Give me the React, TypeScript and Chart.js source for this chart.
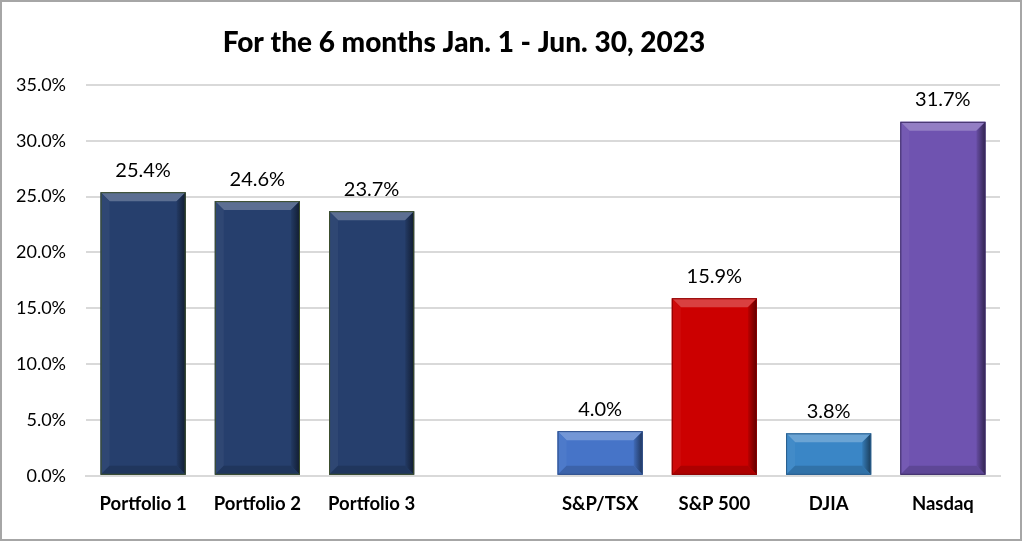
import { useEffect, useRef } from 'react'
import { Chart, registerables } from 'chart.js'

Chart.register(...registerables)

const TITLE = 'For the 6 months Jan. 1 - Jun. 30, 2023'
const categories = ['Portfolio 1', 'Portfolio 2', 'Portfolio 3', '', 'S&P/TSX', 'S&P 500', 'DJIA', 'Nasdaq']
const returns: (number | null)[] = [25.4, 24.6, 23.7, null, 4.0, 15.9, 3.8, 31.7]
const barColors = ['#263f6d', '#263f6d', '#263f6d', '#000000', '#4674c8', '#cc0000', '#3a86c6', '#6f53b0']
const barBorders = ['#3d4f2a', '#3d4f2a', '#3d4f2a', '#000000', '#2f4f8a', '#8a0000', '#285d8c', '#3e2d66']
const yTicks = [0, 5, 10, 15, 20, 25, 30, 35]

const FONT = 'Lato, "Open Sans", sans-serif'

function shade(hex: string, amt: number) {
  const n = parseInt(hex.slice(1), 16)
  let r = (n >> 16) & 255, g = (n >> 8) & 255, b = n & 255
  if (amt > 0) {
    r += (255 - r) * amt; g += (255 - g) * amt; b += (255 - b) * amt
  } else {
    r *= 1 + amt; g *= 1 + amt; b *= 1 + amt
  }
  return `rgb(${Math.round(r)},${Math.round(g)},${Math.round(b)})`
}

// frame + title
const framePlugin = {
  id: 'frame',
  beforeDraw(chart: any) {
    const { ctx, width, height } = chart
    ctx.save()
    ctx.fillStyle = '#ffffff'
    ctx.fillRect(0, 0, width, height)
    ctx.strokeStyle = '#a6a6a6'
    ctx.lineWidth = 2
    ctx.strokeRect(1, 1, width - 4, height - 2)
    ctx.fillStyle = '#000000'
    ctx.font = `900 28px ${FONT}`
    ctx.textAlign = 'center'
    ctx.textBaseline = 'middle'
    ctx.fillText(TITLE, width * 0.453, 43)
    ctx.restore()
  },
}

// bevelled bars and value labels
const bevelPlugin = {
  id: 'bevel',
  afterDatasetsDraw(chart: any) {
    const { ctx } = chart
    const meta = chart.getDatasetMeta(0)
    meta.data.forEach((bar: any, i: number) => {
      const v = returns[i]
      if (v == null) return
      const { x, y, base, width } = bar.getProps(['x', 'y', 'base', 'width'], true)
      const l = x - width / 2, r = x + width / 2, t = y, b = base
      const bv = 9
      const c = barColors[i]
      ctx.save()
      const poly = (pts: number[][], fill: any) => {
        ctx.beginPath()
        ctx.moveTo(pts[0][0], pts[0][1])
        pts.slice(1).forEach(p => ctx.lineTo(p[0], p[1]))
        ctx.closePath()
        ctx.fillStyle = fill
        ctx.fill()
      }
      poly([[l, t], [r, t], [r - bv, t + bv], [l + bv, t + bv]], shade(c, 0.25))
      poly([[l, t], [l + bv, t + bv], [l + bv, b - bv], [l, b]], shade(c, 0.04))
      const rg = ctx.createLinearGradient(r - bv, 0, r, 0)
      rg.addColorStop(0, shade(c, -0.08))
      rg.addColorStop(1, shade(c, -0.55))
      poly([[r, t], [r, b], [r - bv, b - bv], [r - bv, t + bv]], rg)
      poly([[l, b], [r, b], [r - bv, b - bv], [l + bv, b - bv]], shade(c, -0.15))
      ctx.strokeStyle = barBorders[i]
      ctx.lineWidth = 1
      ctx.strokeRect(l + 0.5, t + 0.5, width - 1, b - t - 1)
      ctx.fillStyle = '#000000'
      ctx.font = `20px ${FONT}`
      ctx.textAlign = 'center'
      ctx.textBaseline = 'middle'
      ctx.fillText(`${v.toFixed(1)}%`, x, t - 22)
      ctx.restore()
    })
  },
}

export default function App() {
  const ref = useRef<HTMLCanvasElement>(null)
  useEffect(() => {
    if (!ref.current) return
    const chart = new Chart(ref.current, {
      type: 'bar',
      data: {
        labels: categories,
        datasets: [{
          data: returns,
          backgroundColor: barColors,
          borderWidth: 0,
          barPercentage: 0.745,
          categoryPercentage: 1,
        }],
      },
      options: {
        animation: false,
        responsive: false,
        devicePixelRatio: 1,
        layout: { padding: { left: 0, right: 24, top: 85, bottom: 17 } },
        plugins: { legend: { display: false }, tooltip: { enabled: false } },
        scales: {
          x: {
            grid: { display: false },
            border: { color: '#d9d9d9', width: 2 },
            ticks: { color: '#000000', font: { family: FONT, size: 18.5, weight: 'bold' }, padding: 9 },
          },
          y: {
            min: 0,
            max: 35,
            afterBuildTicks: (s: any) => { s.ticks = yTicks.map(v => ({ value: v })) },
            afterFit: (s: any) => { s.width = 86 },
            grid: { color: '#d9d9d9', lineWidth: 2, drawTicks: false },
            border: { display: false },
            ticks: {
              color: '#000000',
              font: { family: FONT, size: 18 },
              padding: 20,
              callback: (v: any) => `${Number(v).toFixed(1)}%`,
            },
          },
        },
      },
      plugins: [framePlugin, bevelPlugin],
    })
    return () => chart.destroy()
  }, [])
  return (
    <div style={{ position: 'fixed', left: 0, top: 0, width: 1024, height: 541 }}>
      <canvas ref={ref} width={1024} height={541} />
    </div>
  )
}
